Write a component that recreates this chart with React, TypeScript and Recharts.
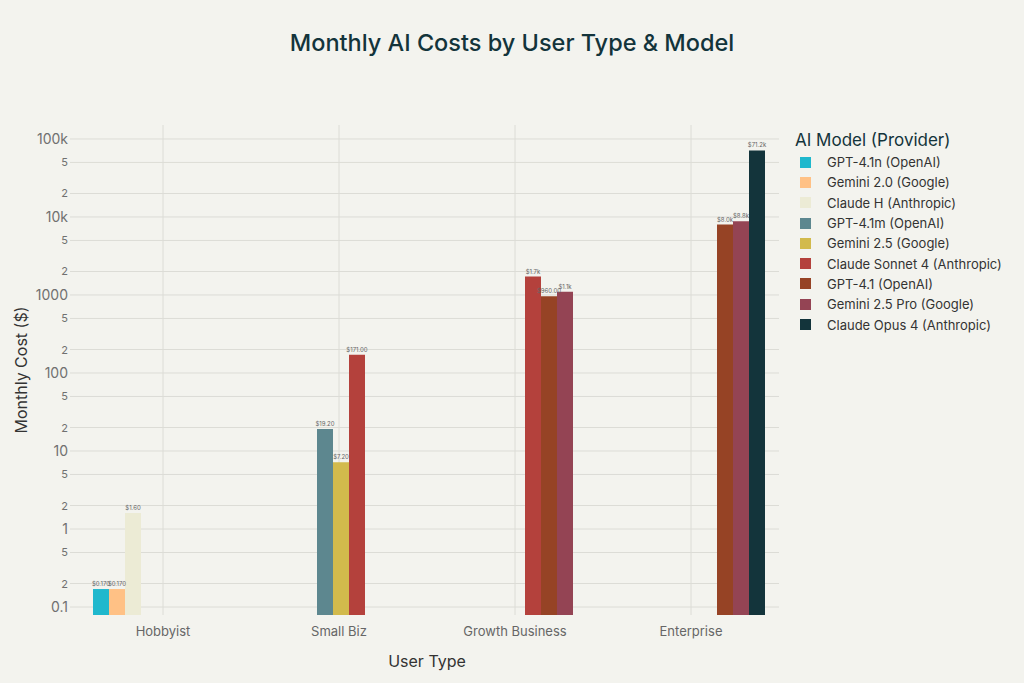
import React from 'react';
import { BarChart, Bar, XAxis, YAxis, CartesianGrid, LabelList } from 'recharts';

const categories = ['Hobbyist', 'Small Biz', 'Growth Business', 'Enterprise'];

const seriesNames = [
  'GPT-4.1n (OpenAI)',
  'Gemini 2.0 (Google)',
  'Claude H (Anthropic)',
  'GPT-4.1m (OpenAI)',
  'Gemini 2.5 (Google)',
  'Claude Sonnet 4 (Anthropic)',
  'GPT-4.1 (OpenAI)',
  'Gemini 2.5 Pro (Google)',
  'Claude Opus 4 (Anthropic)',
];

const seriesColors = [
  '#1FB8CD',
  '#FFC185',
  '#ECEBD5',
  '#5D878F',
  '#D2BA4C',
  '#B4413C',
  '#964325',
  '#944454',
  '#13343B',
];

// values per category (Hobbyist, Small Biz, Growth Business, Enterprise)
const gpt41n = [0.17, null, null, null];
const gemini20 = [0.17, null, null, null];
const claudeH = [1.6, null, null, null];
const gpt41m = [null, 19.2, null, null];
const gemini25 = [null, 7.2, null, null];
const claudeSonnet4 = [null, 171, 1720, null];
const gpt41 = [null, null, 960, 8000];
const gemini25Pro = [null, null, 1100, 8800];
const claudeOpus4 = [null, null, null, 71200];

const seriesValues = [gpt41n, gemini20, claudeH, gpt41m, gemini25, claudeSonnet4, gpt41, gemini25Pro, claudeOpus4];

const yTicks = [0.1, 0.2, 0.5, 1, 2, 5, 10, 20, 50, 100, 200, 500, 1000, 2000, 5000, 10000, 20000, 50000, 100000];

const data = categories.map((category, i) => {
  const row: Record<string, string | number | null> = { category };
  seriesValues.forEach((vals, s) => {
    row['s' + s] = vals[i];
  });
  return row;
});

const FONT = 'Inter, "Open Sans", sans-serif';
const GRID = '#dcdcd6';

function isMajor(v: number): boolean {
  const l = Math.log10(v);
  return Math.abs(l - Math.round(l)) < 1e-9;
}

function tickText(v: number): string {
  if (!isMajor(v)) return String(v).replace('0.', '').replace(/0+$/, '') || String(v);
  if (v >= 10000) return v / 1000 + 'k';
  return String(v);
}

function YTick({ x, y, payload }: { x?: number; y?: number; payload?: { value: number } }) {
  const v = payload!.value;
  const major = isMajor(v);
  return (
    <text x={x} y={y} dy={major ? 5 : 4} textAnchor="end" fontSize={major ? 14 : 11} fill="#707070" fontFamily={FONT}>
      {tickText(v)}
    </text>
  );
}

function formatLabel(v: unknown): string {
  if (v === null || v === undefined) return '';
  const n = Number(v);
  if (n >= 1000) return '$' + (n / 1000).toFixed(1) + 'k';
  if (n < 1) return '$' + n.toFixed(3);
  return '$' + n.toFixed(2);
}

export default function App() {
  return (
    <div style={{ position: 'fixed', left: 0, top: 0, width: 1024, height: 683, background: '#f3f3ee', fontFamily: FONT }}>
      <div
        style={{
          position: 'absolute',
          left: 0,
          top: 28,
          width: 1024,
          textAlign: 'center',
          fontSize: 23.5,
          fontWeight: 500,
          color: '#13343B',
        }}
      >
        Monthly AI Costs by User Type &amp; Model
      </div>

      <BarChart
        width={1024}
        height={683}
        data={data}
        margin={{ top: 125, right: 245, left: 15, bottom: 38 }}
        barCategoryGap={18}
        barGap={0}
      >
        <CartesianGrid stroke={GRID} strokeWidth={1} syncWithTicks />
        <XAxis
          dataKey="category"
          height={30}
          axisLine={false}
          tickLine={false}
          tick={{ fontSize: 13, fill: '#666', fontFamily: FONT }}
          tickMargin={6}
          label={{ value: 'User Type', position: 'insideBottom', offset: -22, fontSize: 16, fill: '#333', fontFamily: FONT }}
        />
        <YAxis
          type="number"
          scale="log"
          domain={[0.079, 151000]}
          allowDataOverflow
          ticks={yTicks}
          interval={0}
          width={60}
          axisLine={false}
          tickLine={{ stroke: GRID }}
          tickSize={5}
          tick={<YTick />}
          label={{
            value: 'Monthly Cost ($)',
            angle: -90,
            position: 'insideLeft',
            offset: 6,
            style: { textAnchor: 'middle' },
            fontSize: 16,
            fill: '#333',
            fontFamily: FONT,
          }}
        />
        {seriesNames.map((name, s) => (
          <Bar key={name} dataKey={'s' + s} name={name} fill={seriesColors[s]} isAnimationActive={false}>
            <LabelList dataKey={'s' + s} position="top" offset={3} fontSize={6} fill="#666" fontFamily={FONT} formatter={formatLabel} />
          </Bar>
        ))}
      </BarChart>

      <div style={{ position: 'absolute', left: 795, top: 130, color: '#13343B' }}>
        <div style={{ fontSize: 17, marginBottom: 2 }}>AI Model (Provider)</div>
        {seriesNames.map((name, s) => (
          <div key={name} style={{ display: 'flex', alignItems: 'center', height: 20.3, marginLeft: 5 }}>
            <span style={{ width: 11, height: 11, background: seriesColors[s], display: 'inline-block', marginRight: 16 }} />
            <span style={{ fontSize: 13, color: '#333' }}>{name}</span>
          </div>
        ))}
      </div>
    </div>
  );
}
